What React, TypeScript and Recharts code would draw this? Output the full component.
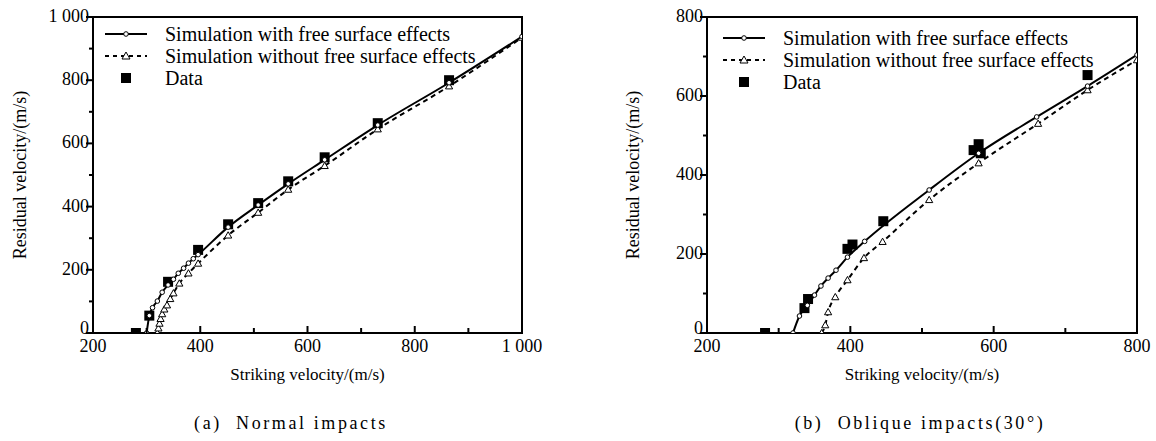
import React from 'react';
import { ComposedChart, Line, Scatter, XAxis, YAxis, ReferenceArea, Legend, Label } from 'recharts';

// ---------- Data: (a) Normal impacts ----------
const freeXA = [300, 305, 311, 320, 329, 340, 350, 359, 369, 378, 387, 396, 452, 508, 564, 632, 731, 864, 1000];
const freeYA = [0, 55, 80, 101, 129, 152, 170, 189, 205, 221, 235, 248, 335, 405, 472, 548, 658, 792, 938];
const noFreeXA = [320, 322, 324, 326, 329, 333, 338, 344, 350, 361, 378, 396, 452, 508, 564, 632, 731, 864, 1000];
const noFreeYA = [0, 15, 30, 45, 60, 75, 88, 108, 126, 157, 189, 220, 309, 381, 454, 529, 645, 781, 935];
const dataXA = [280, 305, 340, 396, 452, 508, 564, 632, 731, 864];
const dataYA = [0, 55, 162, 263, 344, 411, 480, 556, 664, 800];
const xTicksA = [200, 300, 400, 500, 600, 700, 800, 900, 1000];
const yTicksA = [0, 100, 200, 300, 400, 500, 600, 700, 800, 900, 1000];

// ---------- Data: (b) Oblique impacts (30°) ----------
const freeXB = [320, 329, 340, 350, 359, 369, 380, 396, 420, 510, 579, 660, 731, 800];
const freeYB = [0, 43, 70, 96, 119, 139, 159, 192, 232, 362, 455, 547, 625, 704];
const noFreeXB = [360, 365, 369, 379, 396, 419, 445, 510, 579, 662, 731, 800];
const noFreeYB = [0, 20, 53, 91, 134, 190, 231, 337, 430, 530, 615, 691];
const dataXB = [281, 336, 341, 396, 403, 446, 572, 579, 582, 731];
const dataYB = [0, 63, 86, 213, 224, 283, 463, 478, 455, 653];
const xTicksB = [200, 300, 400, 500, 600, 700, 800];
const yTicksB = [0, 100, 200, 300, 400, 500, 600, 700, 800];

const seriesNames = [
  'Simulation with free surface effects',
  'Simulation without free surface effects',
  'Data',
];
const xTitle = 'Striking velocity/(m/s)';
const yTitle = 'Residual velocity/(m/s)';
const captionA = '(a)  Normal impacts';
const captionB = '(b)  Oblique impacts(30°)';

const zip = (xs: number[], ys: number[]) => xs.map((x, i) => ({ x, y: ys[i] }));

const FONT = "'Liberation Serif', 'Times New Roman', Tinos, 'DejaVu Serif', serif";

const fmt = (v: number) => (v >= 1000 ? '1 000' : String(v));

const CircleDot = (props: any) => {
  const { cx, cy, index } = props;
  if (cx == null || cy == null) return <g key={index} />;
  return <circle key={index} cx={cx} cy={cy} r={2.3} fill="#fff" stroke="#000" strokeWidth={1} />;
};

const TriDot = (props: any) => {
  const { cx, cy, index } = props;
  if (cx == null || cy == null) return <g key={index} />;
  const s = 3.6;
  return (
    <polygon
      key={index}
      points={`${cx},${cy - s} ${cx - s},${cy + s * 0.75} ${cx + s},${cy + s * 0.75}`}
      fill="#fff"
      stroke="#000"
      strokeWidth={1}
    />
  );
};

const SquareShape = (props: any) => {
  const { cx, cy } = props;
  const s = 10;
  return <rect x={cx - s / 2} y={cy - s / 2} width={s} height={s} fill="#000" />;
};

const makeXTick = (major: number) => (props: any) => {
  const { x, y, payload } = props;
  const v = payload.value;
  const isMajor = v % major === 0;
  return (
    <g>
      <line x1={x} x2={x} y1={y} y2={y - (isMajor ? 7 : 5)} stroke="#000" strokeWidth={2} />
      {isMajor && (
        <text x={x} y={y + 19} textAnchor="middle" style={{ fontFamily: FONT, fontSize: 18 }} fill="#000">
          {fmt(v)}
        </text>
      )}
    </g>
  );
};

const makeYTick = (major: number) => (props: any) => {
  const { x, y, payload } = props;
  const v = payload.value;
  const isMajor = v % major === 0;
  return (
    <g>
      <line x1={x} x2={x - (isMajor ? 7 : 4)} y1={y} y2={y} stroke="#000" strokeWidth={2} />
      {isMajor && (
        <text x={x - 4} y={v === 0 ? y + 1 : y + 5} textAnchor="end" style={{ fontFamily: FONT, fontSize: 18 }} fill="#000">
          {fmt(v)}
        </text>
      )}
    </g>
  );
};

const LegendBox = () => {
  const row: React.CSSProperties = { display: 'flex', alignItems: 'center', height: 22 };
  const txt: React.CSSProperties = { marginLeft: 18, fontFamily: FONT, fontSize: 20, color: '#000', whiteSpace: 'nowrap', lineHeight: '22px' };
  return (
    <div>
      <div style={row}>
        <svg width={42} height={12}>
          <line x1={0} x2={42} y1={6} y2={6} stroke="#000" strokeWidth={2} />
          <circle cx={21} cy={6} r={2.3} fill="#fff" stroke="#000" strokeWidth={1} />
        </svg>
        <span style={txt}>{seriesNames[0]}</span>
      </div>
      <div style={row}>
        <svg width={42} height={12}>
          <line x1={0} x2={42} y1={6} y2={6} stroke="#000" strokeWidth={2} strokeDasharray="4 4" />
          <polygon points="21,2 17,9 25,9" fill="#fff" stroke="#000" strokeWidth={1} />
        </svg>
        <span style={txt}>{seriesNames[1]}</span>
      </div>
      <div style={row}>
        <svg width={42} height={12}>
          <rect x={16} y={1} width={10} height={10} fill="#000" />
        </svg>
        <span style={txt}>{seriesNames[2]}</span>
      </div>
    </div>
  );
};

type PanelProps = {
  free: { x: number; y: number }[];
  noFree: { x: number; y: number }[];
  data: { x: number; y: number }[];
  xDomain: [number, number];
  yDomain: [number, number];
  xTicks: number[];
  yTicks: number[];
  width: number;
  yAxisWidth: number;
  rightMargin: number;
  legendLeft: number;
  legendTop: number;
  yLabelOffset: number;
};

const Panel = (p: PanelProps) => (
  <ComposedChart
    width={p.width}
    height={400}
    margin={{ top: 17, right: p.rightMargin, left: 0, bottom: 0 }}
    style={{ fontFamily: FONT }}
  >
    <XAxis
      type="number"
      dataKey="x"
      domain={p.xDomain}
      ticks={p.xTicks}
      allowDataOverflow
      height={67}
      tickSize={0}
      tickMargin={0}
      tickLine={false}
      axisLine={{ stroke: '#000', strokeWidth: 2 }}
      tick={makeXTick(200)}
      interval={0}
    >
      <Label value={xTitle} position="insideBottom" offset={20} style={{ fontFamily: FONT, fontSize: 17, fill: '#000' }} />
    </XAxis>
    <YAxis
      type="number"
      dataKey="y"
      domain={p.yDomain}
      ticks={p.yTicks}
      allowDataOverflow
      width={p.yAxisWidth}
      tickSize={0}
      tickMargin={0}
      tickLine={false}
      axisLine={{ stroke: '#000', strokeWidth: 2 }}
      tick={makeYTick(200)}
      interval={0}
    >
      <Label
        value={yTitle}
        angle={-90}
        position="insideLeft"
        offset={p.yLabelOffset}
        style={{ textAnchor: 'middle', fontFamily: FONT, fontSize: 18, fill: '#000' }}
      />
    </YAxis>
    <ReferenceArea
      x1={p.xDomain[0]}
      x2={p.xDomain[1]}
      y1={p.yDomain[0]}
      y2={p.yDomain[1]}
      fill="none"
      fillOpacity={0}
      stroke="#000"
      strokeWidth={2}
    />
    <Line
      data={p.noFree}
      dataKey="y"
      type="monotone"
      stroke="#000"
      strokeWidth={2}
      strokeDasharray="5 4"
      dot={TriDot}
      activeDot={false}
      isAnimationActive={false}
      name={seriesNames[1]}
    />
    <Line
      data={p.free}
      dataKey="y"
      type="monotone"
      stroke="#000"
      strokeWidth={2}
      dot={CircleDot}
      activeDot={false}
      isAnimationActive={false}
      name={seriesNames[0]}
    />
    <Scatter data={p.data} dataKey="y" shape={SquareShape} isAnimationActive={false} name={seriesNames[2]} />
    <Legend
      layout="vertical"
      align="center"
      verticalAlign="middle"
      content={() => <LegendBox />}
      wrapperStyle={{ left: p.legendLeft, top: p.legendTop, width: 'auto', height: 'auto' }}
    />
  </ComposedChart>
);

const captionStyle: React.CSSProperties = {
  position: 'absolute',
  top: 413,
  fontFamily: FONT,
  fontSize: 18,
  letterSpacing: 2.6,
  color: '#000',
  whiteSpace: 'pre',
  transform: 'translateX(-50%)',
};

export default function App() {
  return (
    <div style={{ position: 'absolute', left: 0, top: 0, width: 1156, height: 441, background: '#fff', overflow: 'hidden', fontFamily: FONT }}>
      <div style={{ position: 'absolute', left: 0, top: 0 }}>
        <Panel
          free={zip(freeXA, freeYA)}
          noFree={zip(noFreeXA, noFreeYA)}
          data={zip(dataXA, dataYA)}
          xDomain={[200, 1000]}
          yDomain={[0, 1000]}
          xTicks={xTicksA}
          yTicks={yTicksA}
          width={560}
          yAxisWidth={93}
          rightMargin={38}
          legendLeft={105}
          legendTop={23}
          yLabelOffset={20}
        />
      </div>
      <div style={{ position: 'absolute', left: 620, top: 0 }}>
        <Panel
          free={zip(freeXB, freeYB)}
          noFree={zip(noFreeXB, noFreeYB)}
          data={zip(dataXB, dataYB)}
          xDomain={[200, 800]}
          yDomain={[0, 800]}
          xTicks={xTicksB}
          yTicks={yTicksB}
          width={536}
          yAxisWidth={87}
          rightMargin={19}
          legendLeft={103}
          legendTop={27}
          yLabelOffset={13}
        />
      </div>
      <div style={{ ...captionStyle, left: 291 }}>{captionA}</div>
      <div style={{ ...captionStyle, left: 920 }}>{captionB}</div>
    </div>
  );
}
